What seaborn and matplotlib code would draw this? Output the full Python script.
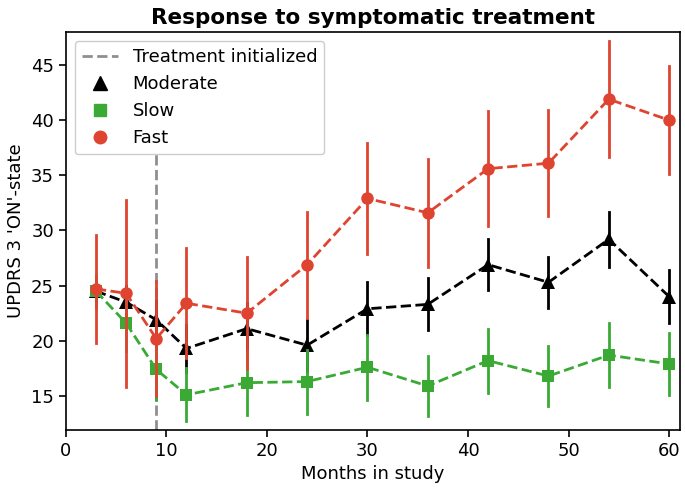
import numpy as np
import pandas as pd
import matplotlib
matplotlib.use("Agg")
import matplotlib.pyplot as plt
from matplotlib.lines import Line2D
import seaborn as sns

months = [3, 6, 9, 12, 18, 24, 30, 36, 42, 48, 54, 60]
moderate_mean = [24.5, 23.5, 21.9, 19.3, 21.1, 19.6, 22.9, 23.3, 26.9, 25.3, 29.2, 24.0]
moderate_err = [1.2, 1.5, 1.8, 2.1, 2.3, 2.3, 2.4, 2.35, 2.3, 2.3, 2.5, 2.4]
slow_mean = [24.5, 21.6, 17.4, 15.1, 16.2, 16.3, 17.6, 15.9, 18.2, 16.8, 18.7, 17.9]
slow_err = [1.5, 2.5, 2.8, 2.4, 2.9, 2.9, 2.95, 2.7, 2.9, 2.75, 2.9, 2.8]
fast_mean = [24.7, 24.3, 20.2, 23.4, 22.5, 26.9, 32.9, 31.6, 35.6, 36.1, 41.9, 40.0]
fast_err = [4.9, 8.5, 5.2, 5.0, 5.1, 4.8, 5.05, 4.9, 5.2, 4.8, 5.25, 4.9]
treatment_month = 9

series = [
    ("Moderate", moderate_mean, moderate_err, "black", "^", 10),
    ("Slow", slow_mean, slow_err, "#3aaa35", "s", 9),
    ("Fast", fast_mean, fast_err, "#df4431", "o", 9),
]

plt.rcParams["font.family"] = ["DejaVu Sans"]

fig = plt.figure(figsize=(6.85, 4.91), dpi=100)
ax = fig.add_axes([0.096, 0.124, 0.897, 0.811])

ax.axvline(treatment_month, ymax=0.85, color="#8f8f8f", linestyle="--", linewidth=2, zorder=1)

for name, mean, err, color, marker, ms in series:
    rows = []
    for x, m, e in zip(months, mean, err):
        rows += [(x, m - e), (x, m), (x, m + e)]
    df = pd.DataFrame(rows, columns=["month", "value"])
    sns.lineplot(data=df, x="month", y="value", ax=ax, estimator="mean",
                 errorbar=("pi", 100), err_style="bars", color=color,
                 linestyle="--", linewidth=2, marker=marker, markersize=ms,
                 markeredgewidth=0, err_kws={"linewidth": 2}, legend=False)

ax.set_xlim(0, 61.1)
ax.set_ylim(11.9, 48)
ax.set_yticks([15, 20, 25, 30, 35, 40, 45])
ax.set_xticks([0, 10, 20, 30, 40, 50, 60])
ax.tick_params(labelsize=13, width=1.2, length=5)
for s in ax.spines.values():
    s.set_linewidth(1.2)
ax.set_xlabel("Months in study", fontsize=13)
ax.set_ylabel("UPDRS 3 'ON'-state", fontsize=13)
ax.set_title("Response to symptomatic treatment", fontsize=15.5, fontweight="bold")

handles = [Line2D([], [], color="#8f8f8f", linestyle="--", linewidth=2, label="Treatment initialized")]
for name, mean, err, color, marker, ms in series:
    handles.append(Line2D([], [], color=color, marker=marker, linestyle="",
                          markersize=ms, label=name))
ax.legend(handles=handles, loc="upper left", fontsize=13, framealpha=1)

fig.savefig("out.png", dpi=100)
